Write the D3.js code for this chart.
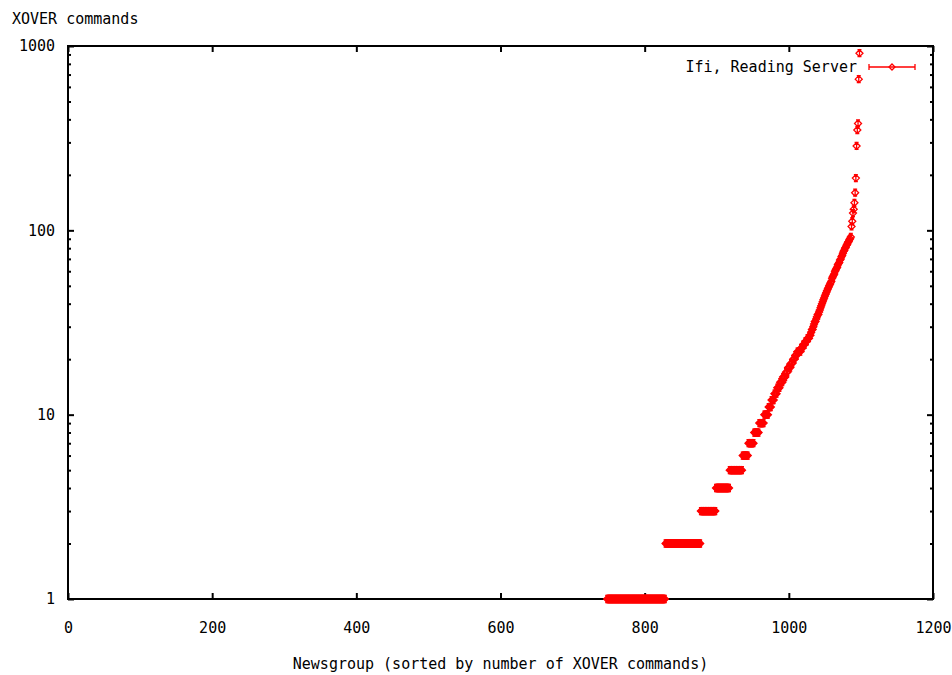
<!DOCTYPE html>
<html>
<head>
<meta charset="utf-8">
<script src="https://cdn.jsdelivr.net/npm/d3@7"></script>
<style>
  body { margin: 0; background: #fff; }
  text { font-family: "DejaVu Sans Mono", monospace; font-size: 15px; fill: #000; }
</style>
</head>
<body>
<script>
    // newsgroups sorted by XOVER count; the first plotted group index
    const firstGroup = 748;
    // flat plateaus: value and how many groups share it
    const plateauValues = [1, 2, 3, 4, 5, 6, 7, 8, 9, 10, 11, 12, 13, 14, 15, 16, 17, 18, 19, 20, 21, 22, 23, 24, 25, 26];
    const plateauCounts = [81, 49, 21, 19, 18, 8, 8, 7, 7, 6, 4, 4, 4, 4, 4, 4, 3, 4, 3, 3, 3, 5, 3, 3, 3, 3];
    // the steep tail, one value per group
    const tailValues = [27, 27, 28, 29, 29, 30, 31, 32, 32, 33, 34, 35, 35, 36, 37, 38, 39, 40, 41, 42,
                        43, 44, 45, 46, 47, 48, 49, 50, 51, 52, 53, 55, 56, 57, 58, 60, 61, 62, 63, 65,
                        66, 67, 69, 70, 72, 73, 75, 77, 78, 80, 81, 83, 84, 86, 87, 89, 90, 92,
                        105, 112, 124, 130, 141, 160, 192, 287, 350, 380, 661, 914];
    const xTicks = [0, 200, 400, 600, 800, 1000, 1200];
    const yTicks = [1, 10, 100, 1000];
    const seriesName = "Ifi, Reading Server";

    const dataset = [];
    let n = firstGroup;
    plateauValues.forEach((v, i) => {
      for (let k = 0; k < plateauCounts[i]; k++) dataset.push([n++, v]);
    });
    tailValues.forEach((v) => dataset.push([n++, v]));

    const w = 952, h = 675;
    const pLeft = 68, pRight = 933, pTop = 46, pBottom = 599;
    const red = "#ff0000";

    const xScale = d3.scaleLinear().domain([0, 1200]).range([pLeft, pRight]);
    const yScale = d3.scaleLog().domain([1, 1000]).range([pBottom, pTop]);

    const svg = d3.select("body").append("svg")
                  .attr("width", w)
                  .attr("height", h);

    // minor log ticks (2..9 in each decade)
    const minor = [];
    [1, 10, 100].forEach((d) => { for (let m = 2; m <= 9; m++) minor.push(d * m); });

    svg.append("g")
       .attr("transform", `translate(0,${pBottom})`)
       .call(d3.axisBottom(xScale).tickValues(xTicks).tickSize(-6).tickPadding(23).tickFormat(d3.format("d")))
       .call((g) => g.select(".domain").remove());

    svg.append("g")
       .attr("transform", `translate(0,${pTop})`)
       .call(d3.axisTop(xScale).tickValues(xTicks).tickSize(-6).tickFormat(""))
       .call((g) => g.select(".domain").remove());

    svg.append("g")
       .attr("transform", `translate(${pLeft},0)`)
       .call(d3.axisLeft(yScale).tickValues(yTicks).tickSize(-6).tickPadding(13).tickFormat(d3.format("d")))
       .call((g) => g.select(".domain").remove());

    svg.append("g")
       .attr("transform", `translate(${pRight},0)`)
       .call(d3.axisRight(yScale).tickValues(yTicks).tickSize(-6).tickFormat(""))
       .call((g) => g.select(".domain").remove());

    svg.append("g")
       .attr("transform", `translate(${pLeft},0)`)
       .call(d3.axisLeft(yScale).tickValues(minor).tickSize(-3).tickFormat(""))
       .call((g) => g.select(".domain").remove());

    svg.append("g")
       .attr("transform", `translate(${pRight},0)`)
       .call(d3.axisRight(yScale).tickValues(minor).tickSize(-3).tickFormat(""))
       .call((g) => g.select(".domain").remove());

    svg.selectAll(".tick line").attr("stroke", "#000").attr("stroke-width", 2);
    svg.selectAll(".tick text").style("font-family", "'DejaVu Sans Mono', monospace").style("font-size", "15px");

    svg.append("rect")
       .attr("x", pLeft).attr("y", pTop)
       .attr("width", pRight - pLeft).attr("height", pBottom - pTop)
       .attr("fill", "none").attr("stroke", "#000").attr("stroke-width", 2);

    // points: small diamonds with crossed error ticks
    const marker = "M0,-3.5L3.5,0L0,3.5L-3.5,0Z M0,-3.5V3.5 M-2,-3.5H2 M-2,3.5H2";
    svg.append("g").selectAll("path")
       .data(dataset)
       .enter()
       .append("path")
       .attr("transform", (d) => `translate(${xScale(d[0])},${yScale(d[1])})`)
       .attr("d", marker)
       .attr("fill", "none")
       .attr("stroke", red)
       .attr("stroke-width", 1.3);

    // legend
    const ly = 67;
    svg.append("text").attr("x", 857).attr("y", ly + 5).attr("text-anchor", "end").text(seriesName);
    const key = svg.append("g").attr("stroke", red).attr("stroke-width", 1.3).attr("fill", "none");
    key.append("path").attr("d", `M869,${ly}H915 M869,${ly - 3}V${ly + 3} M915,${ly - 3}V${ly + 3}`);
    key.append("path").attr("transform", `translate(892,${ly})`).attr("d", "M0,-3L3,0L0,3L-3,0Z");

    // axis titles
    svg.append("text").attr("x", 12).attr("y", 24).text("XOVER commands");
    svg.append("text").attr("x", (pLeft + pRight) / 2).attr("y", 669).attr("text-anchor", "middle")
       .text("Newsgroup (sorted by number of XOVER commands)");
</script>
</body>
</html>
